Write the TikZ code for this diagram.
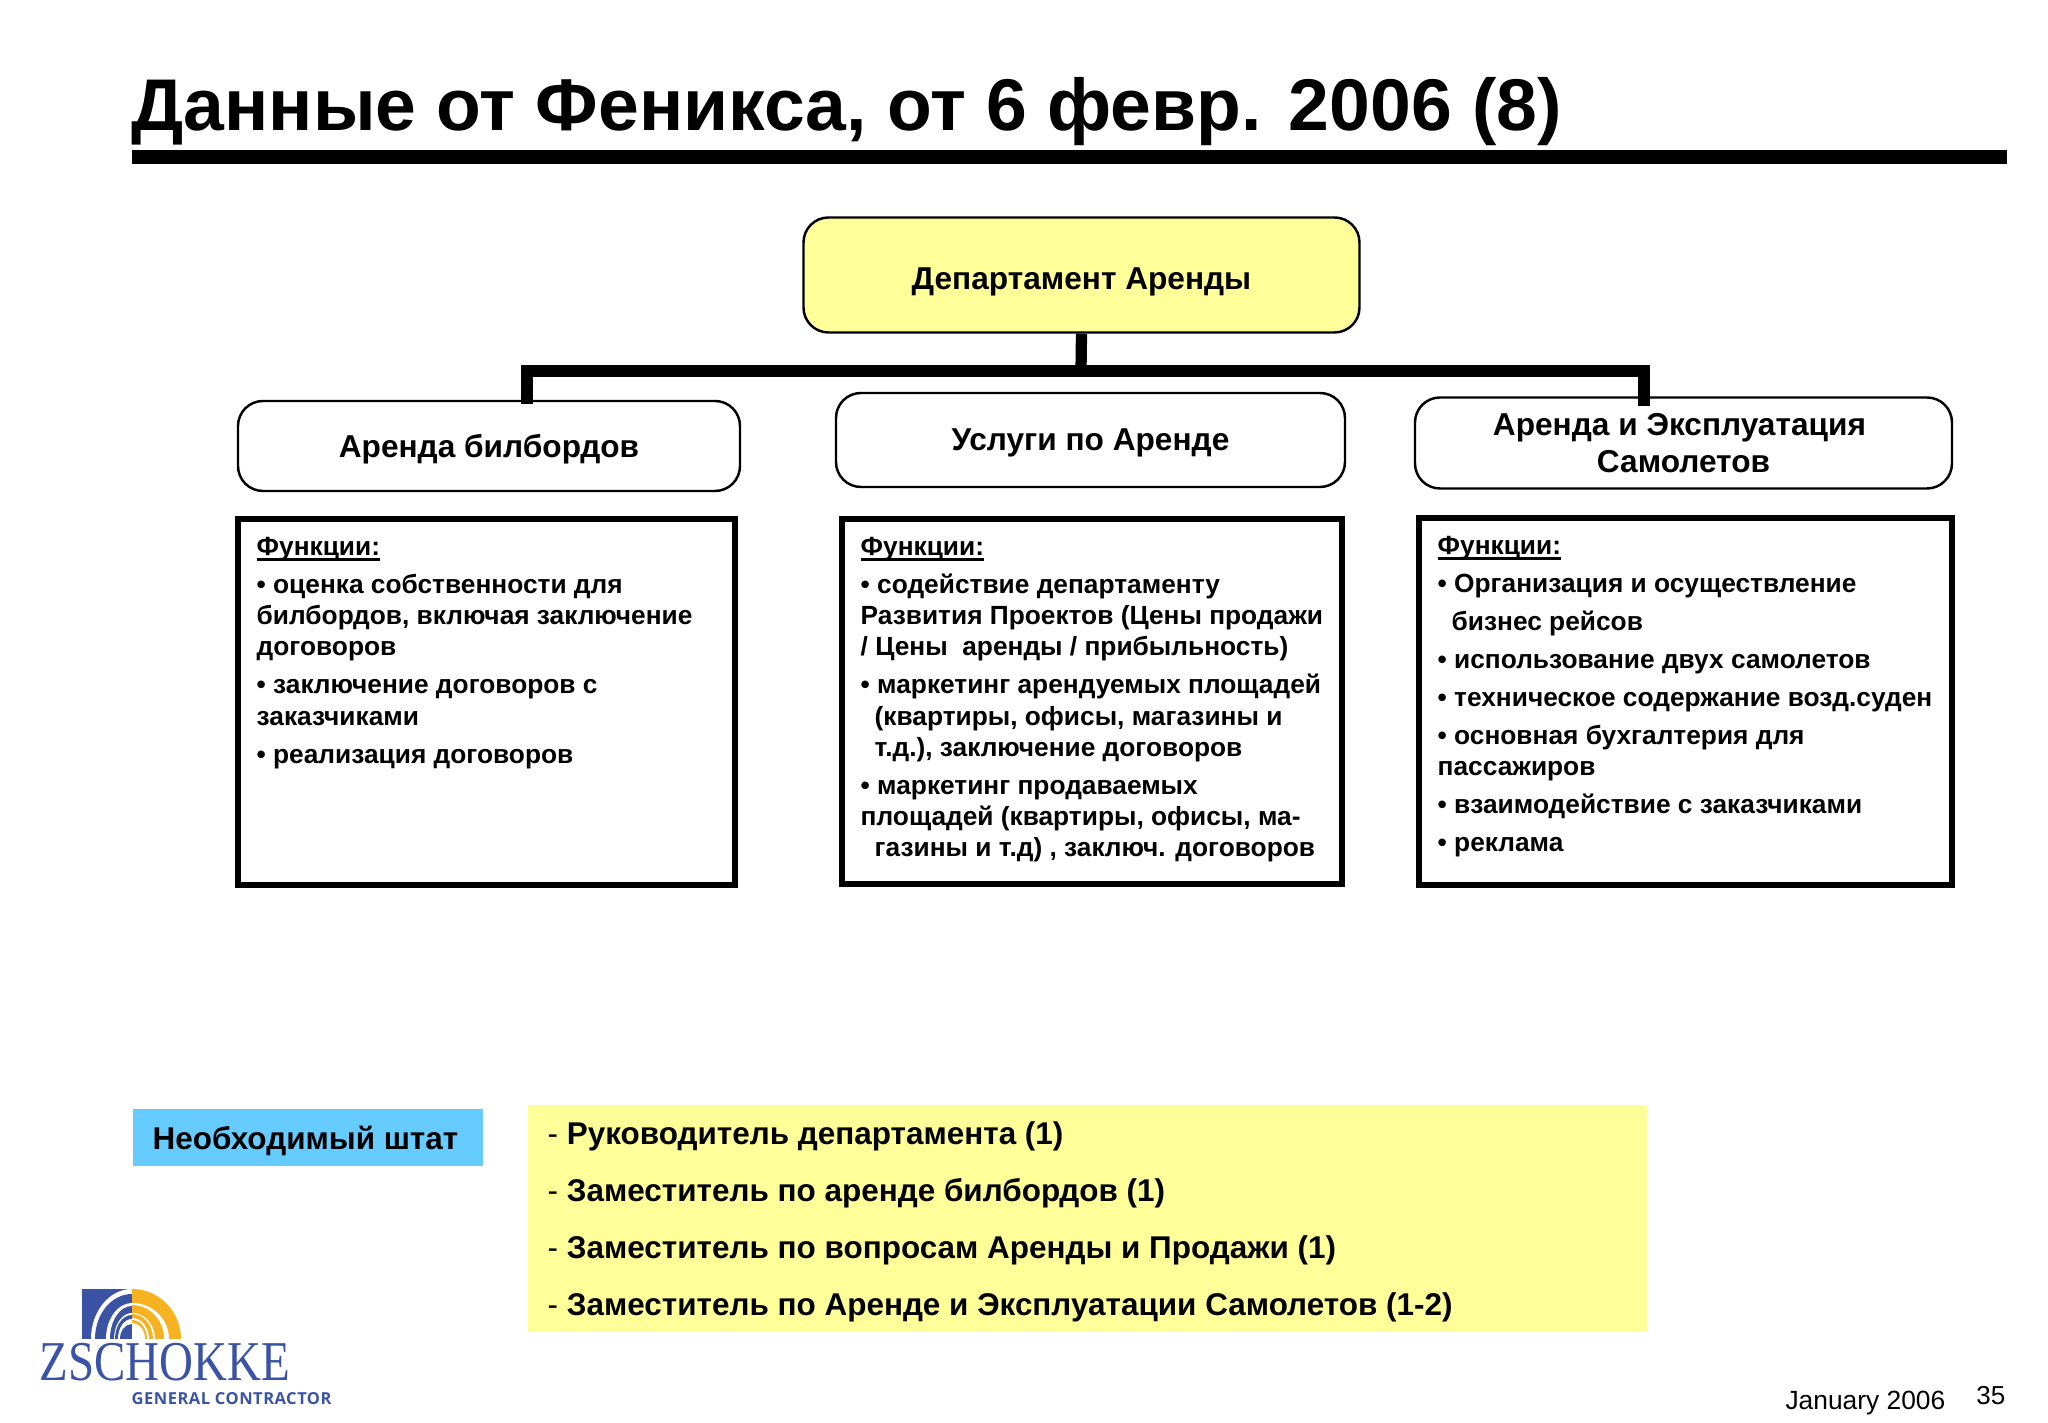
\documentclass[tikz,border=0pt]{standalone}
\usepackage{fontspec}
\setmainfont{Liberation Sans}
\newfontfamily\logoserif{Liberation Serif}
\newfontfamily\logosans[LetterSpace=3]{Open Sans}
\usepackage{xcolor}
\usetikzlibrary{positioning,calc}
\definecolor{paleyellow}{HTML}{FFFF99}
\definecolor{skyblue}{HTML}{66CCFF}
\definecolor{logoblue}{HTML}{3B53A4}
\definecolor{logogold}{HTML}{F6B221}
\newcommand{\funchead}[1]{\setbox0\hbox{#1}\rlap{\rule[-1.5pt]{\wd0}{0.7pt}}\box0}
\tikzset{
    deptbox/.style={draw,rounded corners=0.25cm,line width=0.7pt,align=center,text depth=0pt,font=\fontsize{9}{10.6}\selectfont\bfseries},
    funcbox/.style={draw,line width=1.7pt,anchor=north west},
    functext/.style={anchor=north west,inner sep=0pt,align=left,font=\fontsize{7.48}{8.9}\selectfont\bfseries},
    staffline/.style={anchor=west,inner sep=0pt,font=\fontsize{8.95}{11}\selectfont\bfseries},
    bar/.style={line width=3.2pt}
}
\begin{document}
\begin{tikzpicture}
    \useasboundingbox (0,0) rectangle (20.48,14.23);

    % Title and rule
    \node (title) [anchor=base west,inner sep=0pt,font=\fontsize{20.85}{26}\selectfont\bfseries] at (1.31,12.925) {Данные от Феникса, от 6 февр. 2006 (8)};
    \fill (1.32,12.59) rectangle (20.07,12.73);

    % Department boxes
    \node (dept) [deptbox,fill=paleyellow,text height=8pt,minimum width=5.56cm,minimum height=1.15cm] at (10.815,11.48) {Департамент Аренды};
    \node (billboards) [deptbox,minimum width=5.02cm,minimum height=0.9cm] at (4.89,9.77) {Аренда билбордов};
    \node (services) [deptbox,minimum width=5.09cm,minimum height=0.94cm] at (10.905,9.83) {Услуги по Аренде};
    \node (aircraft) [deptbox,minimum width=5.37cm,minimum height=0.91cm] at (16.835,9.8) {Аренда и Эксплуатация\hspace*{0.08cm}\\Самолетов};

    % Tree
    \coordinate (busmid) at (10.81,10.52);
    \coordinate (tapleft) at (5.27,10.19);
    \coordinate (tapright) at (16.44,10.17);
    \draw[bar] (dept.south) -- (busmid);
    \draw[bar] (tapleft) |- (busmid) -| (tapright);

    % Function boxes
    \node (billboardsfunc) [funcbox,minimum width=4.97cm,minimum height=3.66cm] at (2.35,9.07) {};
    \node (servicesfunc) [funcbox,minimum width=5cm,minimum height=3.65cm] at (8.39,9.07) {};
    \node (aircraftfunc) [funcbox,minimum width=5.33cm,minimum height=3.67cm] at (14.16,9.08) {};

    \node (billboardstext) [functext] at ($(billboardsfunc.north west)+(0.21,-0.205)$) {\funchead{Функции:}\\[1.9pt]
        • оценка собственности для\\
        билбордов, включая заключение\\
        договоров\\[1.9pt]
        • заключение договоров с\\
        заказчиками\\[1.9pt]
        • реализация договоров};
    \node (servicestext) [functext] at ($(servicesfunc.north west)+(0.21,-0.205)$) {\funchead{Функции:}\\[1.9pt]
        • содействие департаменту\\
        Развития Проектов (Цены продажи\\
        / Цены\ \ аренды / прибыльность)\\[1.9pt]
        • маркетинг арендуемых площадей\\
        \hspace*{0.14cm}(квартиры, офисы, магазины и\\
        \hspace*{0.14cm}т.д.), заключение договоров\\[1.9pt]
        • маркетинг продаваемых\\
        площадей (квартиры, офисы, ма-\\
        \hspace*{0.14cm}газины и т.д) , заключ. договоров};
    \node (aircrafttext) [functext] at ($(aircraftfunc.north west)+(0.21,-0.205)$) {\funchead{Функции:}\\[1.9pt]
        • Организация и осуществление\\[1.9pt]
        \hspace*{0.14cm}бизнес рейсов\\[1.9pt]
        • использование двух самолетов\\[1.9pt]
        • техническое содержание возд.суден\\[1.9pt]
        • основная бухгалтерия для\\
        пассажиров\\[1.9pt]
        • взаимодействие с заказчиками\\[1.9pt]
        • реклама};

    % Staff
    \node (stafflabel) [fill=skyblue,minimum width=3.5cm,minimum height=0.57cm,inner sep=0pt,text depth=0pt,font=\fontsize{8.95}{11}\selectfont\bfseries] at (3.08,2.855) {Необходимый штат\hspace*{0.05cm}};
    \node (staffbox) [fill=paleyellow,minimum width=11.19cm,minimum height=2.27cm,inner sep=0pt] at (10.875,2.04) {};
    \foreach \txt [count=\i] in {Руководитель департамента (1),Заместитель по аренде билбордов (1),Заместитель по вопросам Аренды и Продажи (1),Заместитель по Аренде и Эксплуатации Самолетов (1-2)} {
        \node (staff\i) [staffline] at (5.47,{2.865-0.57*(\i-1)}) {\textmd{-} \txt};
    }

    % Logo
    \fill[logoblue] (0.82,0.84) rectangle (1.32,1.34);
    \foreach \c/\rx/\ry in {white/.41/.50,logoblue/.37/.45,white/.26/.36,logoblue/.22/.33,white/.18/.26,logoblue/.17/.24,white/.14/.20,logoblue/.12/.15} {
        \fill[\c] (1.32,0.84) -- ++(-\rx,0) arc[start angle=180,end angle=90,x radius=\rx,y radius=\ry] -- cycle;
    }
    \foreach \c/\rx/\ry in {logogold/.49/.50,white/.37/.36,logogold/.32/.34,white/.23/.26,logogold/.21/.25,white/.17/.21,logogold/.15/.19,white/.13/.16} {
        \fill[\c] (1.32,0.84) -- ++(\rx,0) arc[start angle=0,end angle=90,x radius=\rx,y radius=\ry] -- cycle;
    }
    \node (logoname) [anchor=base west,inner sep=0pt,xscale=0.835,transform shape,text=logoblue,font=\fontsize{16}{18}\selectfont\logoserif] at (0.39,0.42) {ZSCHOKKE};
    \node (logosub) [anchor=base west,inner sep=0pt,text=logoblue,font=\fontsize{4.7}{6}\selectfont\logosans\bfseries] at (1.31,0.18) {GENERAL CONTRACTOR};

    % Footer
    \node (footdate) [anchor=base east,inner sep=0pt,font=\fontsize{7.5}{9}\selectfont] at (19.46,0.13) {January 2006};
    \node (footpage) [anchor=base east,inner sep=0pt,font=\fontsize{7.4}{9}\selectfont] at (20.06,0.18) {35};
\end{tikzpicture}
\end{document}
